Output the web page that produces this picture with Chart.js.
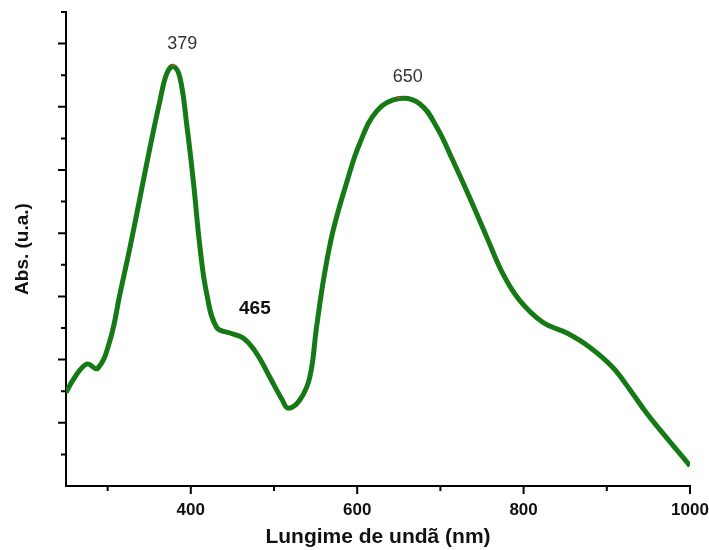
<!DOCTYPE html>
<html>
<head>
<meta charset="utf-8">
<script src="https://cdn.jsdelivr.net/npm/chart.js@4/dist/chart.umd.min.js"></script>
<style>
  html, body { margin: 0; padding: 0; background: #fff; }
  #wrap { width: 709px; height: 550px; position: relative; }
</style>
</head>
<body>
<div id="wrap"><canvas id="chart-area"></canvas></div>
<script>
// spectrum
let wavelengths = [250, 260, 275, 288, 303, 315, 327, 339, 351, 363, 371, 379, 387, 395, 403, 411, 419, 431, 447, 463, 479, 495, 510, 517, 531, 543, 551, 560, 571, 588, 603, 624, 650, 675, 696, 715, 735, 756, 775, 795, 823, 852, 879, 907, 928, 948, 967, 1000];
let absorbance = [1.48, 1.71, 1.93, 1.86, 2.31, 3.05, 3.78, 4.57, 5.36, 6.10, 6.52, 6.64, 6.46, 5.73, 4.83, 3.78, 3.05, 2.51, 2.42, 2.34, 2.10, 1.72, 1.36, 1.23, 1.36, 1.72, 2.50, 3.30, 4.04, 4.83, 5.42, 5.94, 6.13, 6.05, 5.67, 5.15, 4.57, 3.93, 3.36, 2.94, 2.59, 2.42, 2.20, 1.88, 1.52, 1.15, 0.84, 0.32];

let xTickLabels = [400, 600, 800, 1000];
let xMinorTicks = [300, 500, 700, 900];
let yMajorTicks = [1, 2, 3, 4, 5, 6, 7];
let yMinorTicks = [0.5, 1.5, 2.5, 3.5, 4.5, 5.5, 6.5, 7.5];

let peakLabels = ['379', '650'];
let peakAt = [379, 650];
let shoulderLabel = '465';
let shoulderAt = 465;

let points = wavelengths.map((w, i) => ({x: w, y: absorbance[i]}));
let fontFam = '"Liberation Sans", Arial, sans-serif';

function valueAt(w) {
    let i = wavelengths.indexOf(w);
    return i >= 0 ? absorbance[i] : absorbance[0];
}

let tickPlugin = {
    id: 'tickMarks',
    afterDraw: function(chart) {
        let ctx = chart.ctx;
        let xs = chart.scales.x, ys = chart.scales.y;
        let left = chart.chartArea.left, bottom = chart.chartArea.bottom;
        ctx.save();
        ctx.strokeStyle = '#000';
        ctx.lineWidth = 2;
        ctx.beginPath();
        xTickLabels.forEach(v => { let p = xs.getPixelForValue(v); ctx.moveTo(p, bottom); ctx.lineTo(p, bottom + 8); });
        xMinorTicks.forEach(v => { let p = xs.getPixelForValue(v); ctx.moveTo(p, bottom); ctx.lineTo(p, bottom + 5); });
        yMajorTicks.forEach(v => { let p = ys.getPixelForValue(v); ctx.moveTo(left, p); ctx.lineTo(left - 8, p); });
        yMinorTicks.forEach(v => { let p = ys.getPixelForValue(v); ctx.moveTo(left, p); ctx.lineTo(left - 5, p); });
        ctx.stroke();

        // peak labels
        ctx.textAlign = 'center';
        ctx.textBaseline = 'middle';
        peakAt.forEach((w, i) => {
            let px = xs.getPixelForValue(w), py = ys.getPixelForValue(valueAt(w));
            ctx.fillStyle = '#333';
            ctx.font = '18px ' + fontFam;
            ctx.fillText(peakLabels[i], px + 9, py - 22);
            ctx.fillStyle = '#a0522d';
            ctx.beginPath(); ctx.arc(px, py - 1, 1.5, 0, Math.PI * 2); ctx.fill();
        });
        ctx.fillStyle = '#111';
        ctx.font = 'bold 19px ' + fontFam;
        ctx.fillText(shoulderLabel, xs.getPixelForValue(shoulderAt) + 10, ys.getPixelForValue(2.8));
        ctx.restore();
    }
};

let config = {
    type: 'line',
    data: {
        datasets: [{
            data: points,
            borderColor: '#157a15',
            borderWidth: 5,
            pointRadius: 0,
            fill: false,
            tension: 0.4
        }]
    },
    options: {
        responsive: false,
        animation: false,
        layout: { padding: { top: 12, right: 19, left: 0, bottom: 0 } },
        plugins: { legend: { display: false }, tooltip: { enabled: false } },
        scales: {
            x: {
                type: 'linear',
                min: 250,
                max: 1000,
                afterBuildTicks: s => { s.ticks = xTickLabels.map(v => ({value: v})); },
                afterFit: s => { s.height = 64; s.paddingRight = 0; s.paddingLeft = 0; },
                grid: { display: false, drawTicks: false },
                border: { display: true, color: '#000', width: 2 },
                ticks: {
                    color: '#111',
                    padding: 14,
                    maxRotation: 0,
                    autoSkip: false,
                    callback: v => String(v),
                    font: { family: fontFam, size: 17, weight: 'bold' }
                },
                title: {
                    display: true,
                    text: 'Lungime de undã (nm)',
                    color: '#111',
                    padding: { top: 2, bottom: 0 },
                    font: { family: fontFam, size: 21, weight: 'bold' }
                }
            },
            y: {
                min: 0,
                max: 7.5,
                afterFit: s => { s.width = 66; },
                grid: { display: false, drawTicks: false },
                border: { display: true, color: '#000', width: 2 },
                ticks: { display: false },
                title: {
                    display: true,
                    text: 'Abs. (u.a.)',
                    color: '#111',
                    padding: { top: 11, bottom: 0 },
                    font: { family: fontFam, size: 19, weight: 'bold' }
                }
            }
        }
    },
    plugins: [tickPlugin]
};

let canvas = document.getElementById('chart-area');
canvas.width = 709;
canvas.height = 550;
window.myChart = new Chart(canvas.getContext('2d'), config);
</script>
</body>
</html>
